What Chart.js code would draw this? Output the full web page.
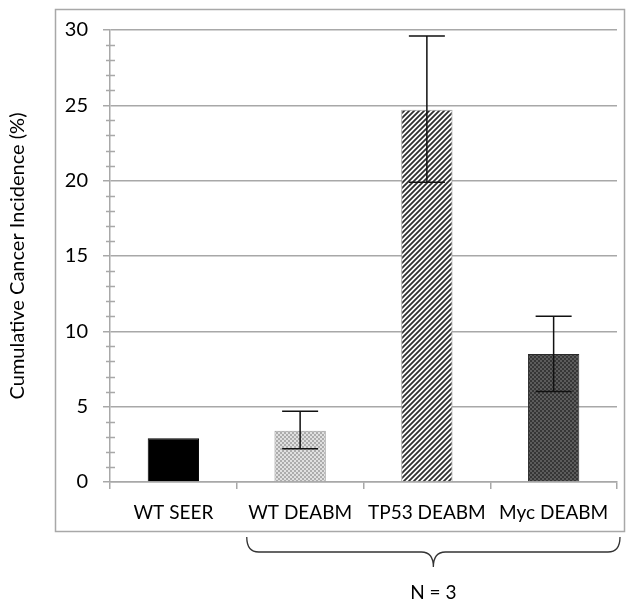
<!DOCTYPE html>
<html>
<head>
<meta charset="utf-8">
<script src="https://cdn.jsdelivr.net/npm/chart.js@4"></script>
<style>
  html, body { margin: 0; padding: 0; background: #fff; }
  #wrap { width: 630px; height: 603px; }
</style>
</head>
<body>
<div id="wrap"><canvas id="chart" width="630" height="603"></canvas></div>
<script>
// Datos
const categories = ["WT SEER", "WT DEABM", "TP53 DEABM", "Myc DEABM"];
const incidence = [2.9, 3.4, 24.7, 8.5];
const errorLow = [null, 2.2, 19.9, 6.0];
const errorHigh = [null, 4.7, 29.6, 11.0];
const yTicks = [0, 5, 10, 15, 20, 25, 30];
const groupLabel = "N = 3";

const FONT = "Lato";
const GRID = "#a8a8a8";

// Texturas de las barras
function makePattern(size, draw) {
  const c = document.createElement("canvas");
  c.width = size;
  c.height = size;
  const g = c.getContext("2d");
  draw(g, size);
  return g.createPattern(c, "repeat");
}

const solidBlack = "#000000";
const lightDots = makePattern(4, (g, s) => {
  g.fillStyle = "#e0e0e0";
  g.fillRect(0, 0, s, s);
  g.fillStyle = "#acacac";
  g.fillRect(0, 0, 2, 2);
  g.fillRect(2, 2, 2, 2);
});
const hatch = makePattern(5, (g, s) => {
  g.fillStyle = "#ffffff";
  g.fillRect(0, 0, s, s);
  g.strokeStyle = "#2e2e2e";
  g.lineWidth = 1.8;
  g.beginPath();
  g.moveTo(-1, s + 1); g.lineTo(s + 1, -1);
  g.moveTo(-1, 1); g.lineTo(1, -1);
  g.moveTo(s - 1, s + 1); g.lineTo(s + 1, s - 1);
  g.stroke();
});
const darkDots = makePattern(4, (g, s) => {
  g.fillStyle = "#363636";
  g.fillRect(0, 0, s, s);
  g.fillStyle = "#5c5c5c";
  g.fillRect(0, 0, 2, 2);
  g.fillRect(2, 2, 2, 2);
});

// Barras de error
const errorBars = {
  id: "errorBars",
  afterDatasetsDraw(chart) {
    const ctx = chart.ctx;
    const y = chart.scales.y;
    const meta = chart.getDatasetMeta(0);
    ctx.save();
    ctx.strokeStyle = "#111";
    ctx.lineWidth = 1.5;
    meta.data.forEach((bar, i) => {
      if (errorLow[i] == null) return;
      const x = bar.x;
      const top = y.getPixelForValue(errorHigh[i]);
      const bot = y.getPixelForValue(errorLow[i]);
      const cap = 18;
      ctx.beginPath();
      ctx.moveTo(x, top); ctx.lineTo(x, bot);
      ctx.moveTo(x - cap, top); ctx.lineTo(x + cap, top);
      ctx.moveTo(x - cap, bot); ctx.lineTo(x + cap, bot);
      ctx.stroke();
    });
    ctx.restore();
  }
};

// Marco, marcas menores, llave y texto N = 3
const extras = {
  id: "extras",
  afterDraw(chart) {
    const ctx = chart.ctx;
    const y = chart.scales.y;
    const area = chart.chartArea;
    ctx.save();
    ctx.strokeStyle = GRID;
    ctx.lineWidth = 1.5;
    // marcas menores
    ctx.beginPath();
    for (let v = 0; v <= 30; v++) {
      if (v % 5 === 0) continue;
      const py = Math.round(y.getPixelForValue(v)) + 0.5;
      ctx.moveTo(area.left - 4, py);
      ctx.lineTo(area.left + 5, py);
    }
    ctx.stroke();
    // marco exterior
    ctx.strokeRect(55.5, 9.5, 569, 522);

    // llave bajo los grupos DEABM
    const step = (area.right - area.left) / categories.length;
    const x0 = area.left + step + 10;
    const x1 = area.right + 3;
    const mid = (x0 + x1) / 2;
    const yt = 537, ym = 552, yb = 567;
    ctx.strokeStyle = "#333";
    ctx.lineWidth = 1.3;
    ctx.beginPath();
    ctx.moveTo(x0, yt);
    ctx.quadraticCurveTo(x0, ym, x0 + 12, ym);
    ctx.lineTo(mid - 12, ym);
    ctx.quadraticCurveTo(mid, ym, mid, yb);
    ctx.quadraticCurveTo(mid, ym, mid + 12, ym);
    ctx.lineTo(x1 - 12, ym);
    ctx.quadraticCurveTo(x1, ym, x1, yt);
    ctx.stroke();

    ctx.fillStyle = "#000";
    ctx.font = "19px " + FONT;
    ctx.textAlign = "center";
    ctx.textBaseline = "middle";
    ctx.fillText(groupLabel, mid, 593);
    ctx.restore();
  }
};

new Chart(document.getElementById("chart"), {
  type: "bar",
  data: {
    labels: categories,
    datasets: [{
      label: "Cumulative Cancer Incidence (%)",
      data: incidence,
      backgroundColor: [solidBlack, lightDots, hatch, darkDots],
      borderColor: ["#000", "#9a9a9a", "#9a9a9a", "#2a2a2a"],
      borderWidth: 1,
      categoryPercentage: 1,
      barPercentage: 0.405
    }]
  },
  options: {
    responsive: false,
    animation: false,
    devicePixelRatio: 1,
    layout: { padding: { left: 0, right: 13, top: 30, bottom: 0 } },
    plugins: {
      legend: { display: false },
      tooltip: { enabled: false }
    },
    scales: {
      x: {
        afterFit: (s) => { s.height = 121; },
        border: { color: GRID, width: 1.5 },
        grid: { offset: true, drawOnChartArea: false, color: GRID, lineWidth: 1.5, tickLength: 7 },
        ticks: { color: "#000", font: { family: FONT, size: 19 }, padding: 12 }
      },
      y: {
        min: 0,
        max: 30,
        afterFit: (s) => { s.width = 110; },
        afterBuildTicks: (s) => { s.ticks = yTicks.map((v) => ({ value: v })); },
        border: { color: GRID, width: 1.5 },
        grid: { color: GRID, lineWidth: 1.5, tickLength: 7 },
        ticks: { color: "#000", font: { family: FONT, size: 20 }, padding: 15 },
        title: {
          display: true,
          text: "Cumulative Cancer Incidence (%)",
          color: "#000",
          font: { family: FONT, size: 20 },
          padding: { top: 6, bottom: 0 }
        }
      }
    }
  },
  plugins: [errorBars, extras]
});
</script>
</body>
</html>
